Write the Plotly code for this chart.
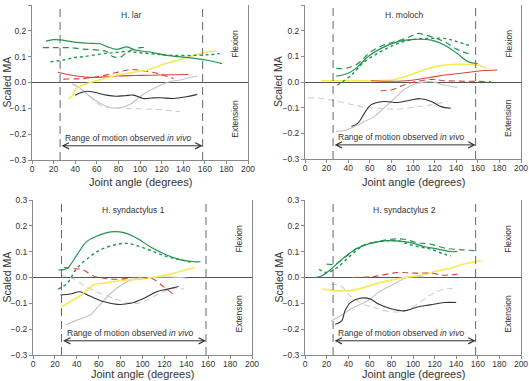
import plotly.graph_objects as go

# ---------------- data (joint angle in degrees, scaled MA) ----------------
# Panel 1: H. lar
lar_green_solid_x = [13, 20, 26, 34, 41, 52, 63, 69, 78, 88, 95, 109, 125, 143, 162, 176]
lar_green_solid_y = [0.160, 0.166, 0.165, 0.160, 0.155, 0.152, 0.150, 0.140, 0.128, 0.138, 0.126, 0.118, 0.105, 0.097, 0.086, 0.073]
lar_green_dash_x = [10, 18, 24, 35, 48, 63, 70, 75, 82, 88, 94, 100, 106]
lar_green_dash_y = [0.135, 0.135, 0.135, 0.135, 0.129, 0.125, 0.118, 0.100, 0.098, 0.118, 0.128, 0.135, 0.135]
lar_green_dot_x = [17, 30, 40, 48, 63, 75, 88, 100, 115, 130, 150, 165, 174]
lar_green_dot_y = [0.080, 0.088, 0.097, 0.100, 0.110, 0.115, 0.120, 0.115, 0.110, 0.105, 0.105, 0.108, 0.112]
lar_yellow_x = [34, 38, 41, 46, 51, 57, 63, 70, 78, 86, 94, 100, 106, 112, 119, 128, 137, 144, 150, 156, 162, 171]
lar_yellow_y = [-0.062, -0.048, -0.023, -0.012, -0.004, 0.004, 0.010, 0.018, 0.028, 0.034, 0.040, 0.044, 0.047, 0.056, 0.067, 0.078, 0.089, 0.097, 0.105, 0.112, 0.118, 0.122]
lar_red_solid_x = [24, 32, 41, 50, 57, 68, 78, 95, 109, 128, 145]
lar_red_solid_y = [0.040, 0.032, 0.025, 0.021, 0.020, 0.022, 0.025, 0.027, 0.028, 0.030, 0.031]
lar_red_dash_x = [29, 40, 48, 60, 72, 82, 91, 97, 103, 111, 119, 125, 131]
lar_red_dash_y = [0.013, 0.014, 0.015, 0.022, 0.032, 0.043, 0.050, 0.049, 0.045, 0.040, 0.032, 0.024, 0.015]
lar_black_x = [40, 45, 51, 60, 69, 78, 86, 94, 103, 111, 119, 131, 143, 153]
lar_black_y = [-0.049, -0.040, -0.034, -0.040, -0.049, -0.053, -0.051, -0.049, -0.062, -0.060, -0.059, -0.062, -0.055, -0.046]
lar_grey_solid_x = [37, 45, 54, 63, 72, 82, 91, 100, 106, 113, 125, 137, 153]
lar_grey_solid_y = [-0.004, -0.023, -0.055, -0.080, -0.097, -0.097, -0.084, -0.055, -0.038, -0.023, 0.000, 0.010, 0.025]
lar_grey_dash_x = [38, 46, 54, 63, 72, 88, 109, 125, 137]
lar_grey_dash_y = [-0.010, -0.027, -0.055, -0.088, -0.097, -0.100, -0.103, -0.107, -0.113]

# Panel 2: H. moloch
mol_green_solid_x = [29, 40, 49, 58, 70, 86, 101, 117, 129, 141, 151, 160]
mol_green_solid_y = [0.023, 0.034, 0.060, 0.098, 0.130, 0.157, 0.166, 0.163, 0.144, 0.111, 0.079, 0.072]
mol_green_dash_x = [29, 38, 49, 61, 73, 86, 98, 104, 117, 129, 141, 151, 155]
mol_green_dash_y = [0.053, 0.053, 0.072, 0.118, 0.144, 0.160, 0.178, 0.189, 0.176, 0.157, 0.127, 0.111, 0.109]
mol_green_dot_x = [30, 43, 55, 70, 86, 101, 117, 129, 141, 154]
mol_green_dot_y = [-0.012, 0.027, 0.079, 0.118, 0.150, 0.166, 0.170, 0.170, 0.157, 0.140]
mol_yellow_x = [15, 49, 80, 92, 110, 123, 141, 160, 168]
mol_yellow_y = [0.005, 0.005, 0.008, 0.020, 0.047, 0.062, 0.069, 0.066, 0.053]
mol_red_solid_x = [61, 86, 104, 123, 148, 163, 178]
mol_red_solid_y = [0.005, 0.003, 0.010, 0.023, 0.036, 0.044, 0.047]
mol_red_dash_x = [70, 80, 89, 98, 117, 129, 150, 172]
mol_red_dash_y = [-0.034, -0.031, -0.016, -0.003, 0.010, 0.005, 0.003, 0.002]
mol_black_x = [43, 49, 55, 61, 73, 86, 98, 107, 117, 126, 135]
mol_black_y = [-0.173, -0.160, -0.122, -0.089, -0.076, -0.080, -0.070, -0.065, -0.076, -0.096, -0.102]
mol_grey_solid_x = [29, 36, 46, 55, 64, 73, 83, 92, 104, 117, 129, 141]
mol_grey_solid_y = [-0.193, -0.190, -0.173, -0.154, -0.135, -0.102, -0.063, -0.028, -0.005, 0.001, -0.012, -0.021]
mol_grey_dash_x = [3, 12, 24, 40, 55, 70, 86, 101, 117, 132]
mol_grey_dash_y = [-0.063, -0.063, -0.070, -0.085, -0.098, -0.102, -0.106, -0.098, -0.089, -0.076]

# Panel 3: H. syndactylus 1
sy1_green_solid_x = [23, 31, 40, 49, 61, 71, 83, 95, 107, 122, 135, 147, 153]
sy1_green_solid_y = [0.029, 0.035, 0.087, 0.139, 0.165, 0.177, 0.174, 0.152, 0.119, 0.087, 0.068, 0.061, 0.061]
sy1_green_dot_x = [23, 31, 40, 52, 61, 74, 86, 98, 110, 122, 135, 147]
sy1_green_dot_y = [-0.045, -0.023, 0.035, 0.081, 0.106, 0.126, 0.132, 0.119, 0.100, 0.081, 0.068, 0.057]
sy1_yellow_x = [26, 34, 46, 55, 68, 83, 98, 113, 128, 141, 148]
sy1_yellow_y = [-0.113, -0.094, -0.061, -0.029, -0.020, -0.010, -0.007, 0.003, 0.016, 0.032, 0.039]
sy1_red_dash_x = [28, 37, 46, 55, 65, 77, 92, 101, 110, 119, 128, 130]
sy1_red_dash_y = [0.039, 0.035, 0.029, 0.006, -0.003, -0.007, 0.000, 0.000, -0.007, -0.035, -0.064, -0.072]
sy1_black_x = [25, 34, 43, 52, 65, 77, 89, 101, 113, 122, 133]
sy1_black_y = [-0.068, -0.064, -0.055, -0.072, -0.094, -0.104, -0.100, -0.081, -0.055, -0.046, -0.035]
sy1_grey_solid_x = [30, 40, 52, 61, 71, 83, 95, 107, 122, 135, 141]
sy1_grey_solid_y = [-0.184, -0.165, -0.145, -0.106, -0.061, -0.023, -0.003, 0.000, 0.002, 0.000, -0.003]
sy1_grey_dash_x = [25, 34, 46, 58, 71, 83, 95, 104, 116, 128, 138]
sy1_grey_dash_y = [0.010, 0.000, -0.029, -0.055, -0.077, -0.094, -0.100, -0.087, -0.061, -0.042, -0.045]

# Panel 4: H. syndactylus 2
sy2_green_solid_x = [7, 14, 24, 36, 48, 61, 73, 85, 98, 110, 123, 135, 141]
sy2_green_solid_y = [0.000, 0.004, 0.032, 0.077, 0.112, 0.133, 0.142, 0.142, 0.135, 0.120, 0.110, 0.100, 0.101]
sy2_green_dash_x = [20, 28, 39, 51, 67, 79, 92, 104, 116, 132, 147, 157]
sy2_green_dash_y = [0.052, 0.052, 0.084, 0.120, 0.138, 0.148, 0.148, 0.135, 0.129, 0.112, 0.107, 0.104]
sy2_green_dot_x = [13, 20, 30, 42, 54, 67, 85, 101, 116, 129, 135]
sy2_green_dot_y = [0.032, 0.019, 0.039, 0.084, 0.123, 0.138, 0.142, 0.123, 0.110, 0.090, 0.084]
sy2_yellow_x = [16, 39, 51, 64, 76, 92, 107, 123, 135, 147, 163]
sy2_yellow_y = [-0.045, -0.052, -0.043, -0.026, -0.013, 0.000, 0.009, 0.026, 0.036, 0.052, 0.065]
sy2_red_dash_x = [44, 64, 85, 101, 116, 129, 141]
sy2_red_dash_y = [0.000, 0.004, 0.019, 0.017, 0.017, 0.009, 0.013]
sy2_black_x = [28, 34, 37, 42, 51, 61, 68, 79, 92, 104, 116, 129, 140]
sy2_black_y = [-0.181, -0.168, -0.129, -0.097, -0.080, -0.084, -0.103, -0.120, -0.129, -0.114, -0.106, -0.097, -0.097]
sy2_grey_solid_x = [24, 33, 45, 58, 70, 82, 95, 110]
sy2_grey_solid_y = [-0.168, -0.148, -0.116, -0.090, -0.052, -0.026, 0.000, 0.003]
sy2_grey_dash_x = [24, 33, 42, 54, 67, 79, 92, 104, 116, 129, 141]
sy2_grey_dash_y = [-0.026, -0.032, -0.071, -0.103, -0.120, -0.133, -0.129, -0.103, -0.068, -0.045, -0.043]

panel_titles = ["H. lar", "H. moloch", "H. syndactylus 1", "H. syndactylus 2"]
rom_limits = [26, 158]
x_ticks = [0, 20, 40, 60, 80, 100, 120, 140, 160, 180, 200]
y_ticks = [-0.3, -0.2, -0.1, 0.0, 0.1, 0.2, 0.3]
y_ticklabels = ["\u22120.3", "\u22120.2", "\u22120.1", "0.0", "0.1", "0.2", "0.3"]

# ---------------- styles ----------------
GREEN = "#23934f"
RED = "#d8453b"
YELLOW = "#f6ea55"
BLACK = "#333333"
GREY = "#c4c4c4"
GREY_D = "#cfcfcf"

styles = {
    "green_solid": dict(color=GREEN, width=1.2, dash="solid"),
    "green_dash": dict(color=GREEN, width=1.2, dash="6px,4px"),
    "green_dot": dict(color=GREEN, width=1.4, dash="dot"),
    "yellow": dict(color=YELLOW, width=1.6, dash="solid"),
    "red_solid": dict(color=RED, width=1.1, dash="solid"),
    "red_dash": dict(color=RED, width=1.1, dash="6px,4px"),
    "black": dict(color=BLACK, width=1.1, dash="solid"),
    "grey_solid": dict(color=GREY, width=1.1, dash="solid"),
    "grey_dash": dict(color=GREY_D, width=1.1, dash="6px,4px"),
}

panels = [
    [("grey_dash", lar_grey_dash_x, lar_grey_dash_y), ("grey_solid", lar_grey_solid_x, lar_grey_solid_y),
     ("black", lar_black_x, lar_black_y), ("red_solid", lar_red_solid_x, lar_red_solid_y),
     ("red_dash", lar_red_dash_x, lar_red_dash_y), ("yellow", lar_yellow_x, lar_yellow_y),
     ("green_dot", lar_green_dot_x, lar_green_dot_y), ("green_dash", lar_green_dash_x, lar_green_dash_y),
     ("green_solid", lar_green_solid_x, lar_green_solid_y)],
    [("grey_dash", mol_grey_dash_x, mol_grey_dash_y), ("grey_solid", mol_grey_solid_x, mol_grey_solid_y),
     ("black", mol_black_x, mol_black_y), ("yellow", mol_yellow_x, mol_yellow_y),
     ("red_solid", mol_red_solid_x, mol_red_solid_y), ("red_dash", mol_red_dash_x, mol_red_dash_y),
     ("green_dot", mol_green_dot_x, mol_green_dot_y), ("green_dash", mol_green_dash_x, mol_green_dash_y),
     ("green_solid", mol_green_solid_x, mol_green_solid_y)],
    [("grey_dash", sy1_grey_dash_x, sy1_grey_dash_y), ("grey_solid", sy1_grey_solid_x, sy1_grey_solid_y),
     ("black", sy1_black_x, sy1_black_y), ("yellow", sy1_yellow_x, sy1_yellow_y),
     ("red_dash", sy1_red_dash_x, sy1_red_dash_y),
     ("green_dot", sy1_green_dot_x, sy1_green_dot_y), ("green_solid", sy1_green_solid_x, sy1_green_solid_y)],
    [("grey_dash", sy2_grey_dash_x, sy2_grey_dash_y), ("grey_solid", sy2_grey_solid_x, sy2_grey_solid_y),
     ("black", sy2_black_x, sy2_black_y), ("yellow", sy2_yellow_x, sy2_yellow_y),
     ("red_dash", sy2_red_dash_x, sy2_red_dash_y),
     ("green_dot", sy2_green_dot_x, sy2_green_dot_y), ("green_dash", sy2_green_dash_x, sy2_green_dash_y),
     ("green_solid", sy2_green_solid_x, sy2_green_solid_y)],
]

W, H = 529, 381
# plot-area pixel boxes (left, right, top, bottom)
boxes = [(32, 248, 5, 160), (305, 521, 5, 159), (33, 252, 200, 355), (305, 521, 200, 355)]
# axis-title pixel positions: (x-title centre y, y-title centre x)
title_pos = [(182, 6), (182, 278), (374, 6), (374, 278)]

FONT = "Liberation Sans, Arial, sans-serif"
TXT = "#333333"
AX = "#8a8a8a"

fig = go.Figure()
layout = dict(
    width=W, height=H, margin=dict(l=0, r=0, t=0, b=0, autoexpand=False),
    paper_bgcolor="white", plot_bgcolor="white", showlegend=False,
    font=dict(family=FONT, size=9, color=TXT),
)
annotations = []
shapes = []

for i, (series, box) in enumerate(zip(panels, boxes)):
    n = "" if i == 0 else str(i + 1)
    xa, ya = "x" + n, "y" + n
    l, r, t, b = box
    layout["xaxis" + n] = dict(
        domain=[l / W, r / W], range=[0, 200], anchor=ya, tickvals=x_ticks, automargin=False,
        ticks="outside", ticklen=3, tickcolor=AX, showline=True, linecolor=AX, linewidth=1,
        showgrid=False, zeroline=False, tickfont=dict(size=8.5, color=TXT), ticklabelstandoff=-2,
    )
    layout["yaxis" + n] = dict(
        domain=[1 - b / H, 1 - t / H], range=[-0.3, 0.3], anchor=xa, tickvals=y_ticks,
        ticktext=y_ticklabels, ticks="outside", ticklen=3, tickcolor=AX, showline=True,
        linecolor=AX, linewidth=1, mirror=True, showgrid=False, zeroline=True, automargin=False,
        zerolinecolor="#555555", zerolinewidth=1, tickfont=dict(size=8.5, color=TXT),
    )
    ty, tx = title_pos[i]
    annotations.append(dict(x=(l + r) / 2 / W, y=1 - ty / H, xref="paper", yref="paper",
                            showarrow=False, text="Joint angle (degrees)",
                            font=dict(size=11, color=TXT), xanchor="center", yanchor="middle"))
    annotations.append(dict(x=tx / W, y=1 - (t + b) / 2 / H, xref="paper", yref="paper",
                            showarrow=False, text="Scaled MA", textangle=-90,
                            font=dict(size=10.5, color=TXT), xanchor="center", yanchor="middle"))
    for key, xs, ys in series:
        fig.add_trace(go.Scatter(x=xs, y=ys, mode="lines", line=styles[key],
                                 line_shape="spline", xaxis=xa, yaxis=ya, hoverinfo="skip"))
    for xv in rom_limits:
        shapes.append(dict(type="line", xref=xa, yref=ya, x0=xv, x1=xv, y0=-0.3, y1=0.3,
                           line=dict(color="#666666", width=1, dash="8px,5px")))
    annotations.append(dict(x=rom_limits[1], y=-0.245, ax=rom_limits[0], ay=-0.245,
                            xref=xa, yref=ya, axref=xa, ayref=ya, text="", showarrow=True,
                            arrowhead=5, arrowside="end+start", arrowsize=1.2, arrowwidth=1,
                            arrowcolor="#333333"))
    annotations.append(dict(x=89, y=-0.215, xref=xa, yref=ya, showarrow=False,
                            text="Range of motion observed <i>in vivo</i>",
                            font=dict(size=8.5, color=TXT)))
    annotations.append(dict(x=92, y=0.262, xref=xa, yref=ya, showarrow=False,
                            text=panel_titles[i], font=dict(size=8.5, color=TXT)))
    annotations.append(dict(x=188, y=0.15, xref=xa, yref=ya, showarrow=False, textangle=-90,
                            text="Flexion", font=dict(size=8.5, color=TXT)))
    annotations.append(dict(x=188, y=-0.14, xref=xa, yref=ya, showarrow=False, textangle=-90,
                            text="Extension", font=dict(size=8.5, color=TXT)))

layout["annotations"] = annotations
layout["shapes"] = shapes
fig.update_layout(**layout)
fig.write_html("out.html", config={"displayModeBar": False},
               post_script="document.body.style.margin='0';document.body.style.overflow='hidden';")
